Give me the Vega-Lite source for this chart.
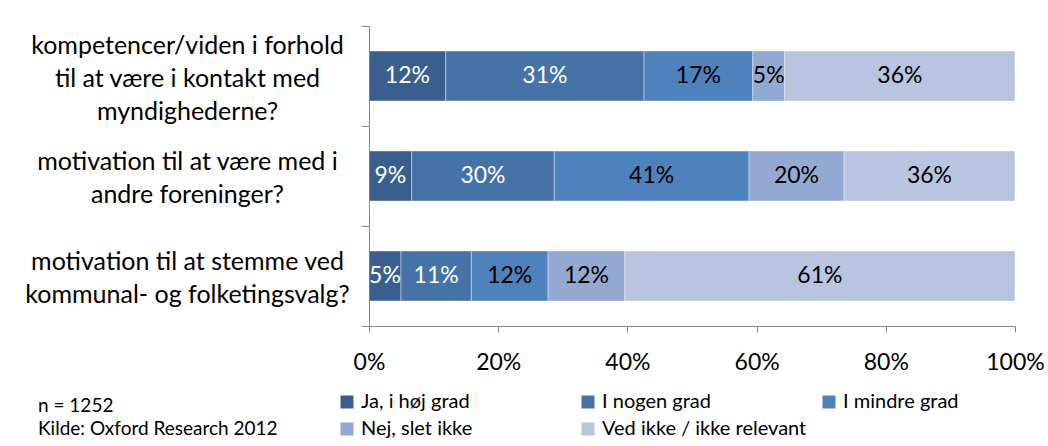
{
  "$schema": "https://vega.github.io/schema/vega-lite/v6.json",
  "width": 646,
  "height": 300,
  "autosize": "none",
  "padding": {"left": 369, "top": 26, "right": 33, "bottom": 120},
  "background": "white",
  "config": {"font": "Lato", "view": {"stroke": null}},
  "title": {
    "text": "n = 1252",
    "subtitle": "Kilde: Oxford Research 2012",
    "orient": "bottom",
    "anchor": "start",
    "frame": "group",
    "dx": -331,
    "offset": -42,
    "fontSize": 19,
    "fontWeight": "normal",
    "color": "black",
    "subtitleFontSize": 19,
    "subtitleColor": "black",
    "subtitlePadding": 4,
    "font": "Lato",
    "subtitleFont": "Lato"
  },
  "data": {
    "values": [
      {"q": "kompetencer/viden i forhold|til at være i kontakt med|myndighederne?", "cat": "Ja, i høj grad", "o": 1, "pct": 0.12},
      {"q": "kompetencer/viden i forhold|til at være i kontakt med|myndighederne?", "cat": "I nogen grad", "o": 2, "pct": 0.31},
      {"q": "kompetencer/viden i forhold|til at være i kontakt med|myndighederne?", "cat": "I mindre grad", "o": 3, "pct": 0.17},
      {"q": "kompetencer/viden i forhold|til at være i kontakt med|myndighederne?", "cat": "Nej, slet ikke", "o": 4, "pct": 0.05},
      {"q": "kompetencer/viden i forhold|til at være i kontakt med|myndighederne?", "cat": "Ved ikke / ikke relevant", "o": 5, "pct": 0.36},
      {"q": "motivation til at være med i|andre foreninger?", "cat": "Ja, i høj grad", "o": 1, "pct": 0.09},
      {"q": "motivation til at være med i|andre foreninger?", "cat": "I nogen grad", "o": 2, "pct": 0.30},
      {"q": "motivation til at være med i|andre foreninger?", "cat": "I mindre grad", "o": 3, "pct": 0.41},
      {"q": "motivation til at være med i|andre foreninger?", "cat": "Nej, slet ikke", "o": 4, "pct": 0.20},
      {"q": "motivation til at være med i|andre foreninger?", "cat": "Ved ikke / ikke relevant", "o": 5, "pct": 0.36},
      {"q": "motivation til at stemme ved|kommunal- og folketingsvalg?", "cat": "Ja, i høj grad", "o": 1, "pct": 0.05},
      {"q": "motivation til at stemme ved|kommunal- og folketingsvalg?", "cat": "I nogen grad", "o": 2, "pct": 0.11},
      {"q": "motivation til at stemme ved|kommunal- og folketingsvalg?", "cat": "I mindre grad", "o": 3, "pct": 0.12},
      {"q": "motivation til at stemme ved|kommunal- og folketingsvalg?", "cat": "Nej, slet ikke", "o": 4, "pct": 0.12},
      {"q": "motivation til at stemme ved|kommunal- og folketingsvalg?", "cat": "Ved ikke / ikke relevant", "o": 5, "pct": 0.61}
    ]
  },
  "transform": [
    {"stack": "pct", "groupby": ["q"], "sort": [{"field": "o"}], "as": ["v0", "v1"], "offset": "normalize"},
    {"calculate": "(datum.v0 + datum.v1) / 2", "as": "mid"}
  ],
  "encoding": {
    "y": {
      "field": "q",
      "type": "nominal",
      "sort": null,
      "scale": {"paddingInner": 0, "paddingOuter": 0},
      "axis": {
        "title": null,
        "labelExpr": "split(datum.label, '|')",
        "labelAlign": "center",
        "labelBaseline": "middle",
        "labelPadding": 174,
        "labelOffset": {"condition": {"test": "length(split(datum.value, '|')) > 2", "value": -31}, "value": -15},
        "labelFontSize": 25,
        "labelLineHeight": 33,
        "labelLimit": 0,
        "labelColor": "black",
        "tickBand": "extent",
        "tickSize": 8,
        "tickColor": "#888888",
        "domainColor": "#888888"
      }
    }
  },
  "layer": [
    {
      "mark": {"type": "bar", "height": {"band": 0.5}, "stroke": "white", "strokeWidth": 0.8, "strokeOpacity": 0.5},
      "encoding": {
        "x": {
          "field": "v0",
          "type": "quantitative",
          "scale": {"domain": [0, 1]},
          "axis": {
            "title": null,
            "format": "%",
            "values": [0, 0.2, 0.4, 0.6, 0.8, 1],
            "grid": false,
            "tickSize": 6,
            "tickColor": "#888888",
            "domainColor": "#888888",
            "labelFontSize": 23,
            "labelPadding": 19,
            "labelColor": "black",
            "labelFlush": false
          }
        },
        "x2": {"field": "v1"},
        "color": {
          "field": "cat",
          "type": "nominal",
          "scale": {
            "domain": ["Ja, i høj grad", "I nogen grad", "I mindre grad", "Nej, slet ikke", "Ved ikke / ikke relevant"],
            "range": ["#3A5F8F", "#4572A7", "#4F81BD", "#93A9D1", "#B9C5E0"]
          },
          "legend": {
            "title": null,
            "orient": "none",
            "legendX": -32,
            "legendY": 366,
            "direction": "horizontal",
            "columns": 3,
            "gridAlign": "all",
            "columnPadding": 12,
            "rowPadding": 7,
            "symbolType": "square",
            "symbolSize": 169,
            "symbolStrokeWidth": 0,
            "labelFontSize": 20,
            "labelColor": "black",
            "labelLimit": 0,
            "labelOffset": 4
          }
        }
      }
    },
    {
      "mark": {"type": "text", "fontSize": 23, "baseline": "middle", "align": "center"},
      "encoding": {
        "x": {"field": "mid", "type": "quantitative"},
        "text": {"field": "pct", "type": "quantitative", "format": ".0%"},
        "color": {"condition": {"test": "datum.o <= 2", "value": "white"}, "value": "black"}
      }
    }
  ]
}
